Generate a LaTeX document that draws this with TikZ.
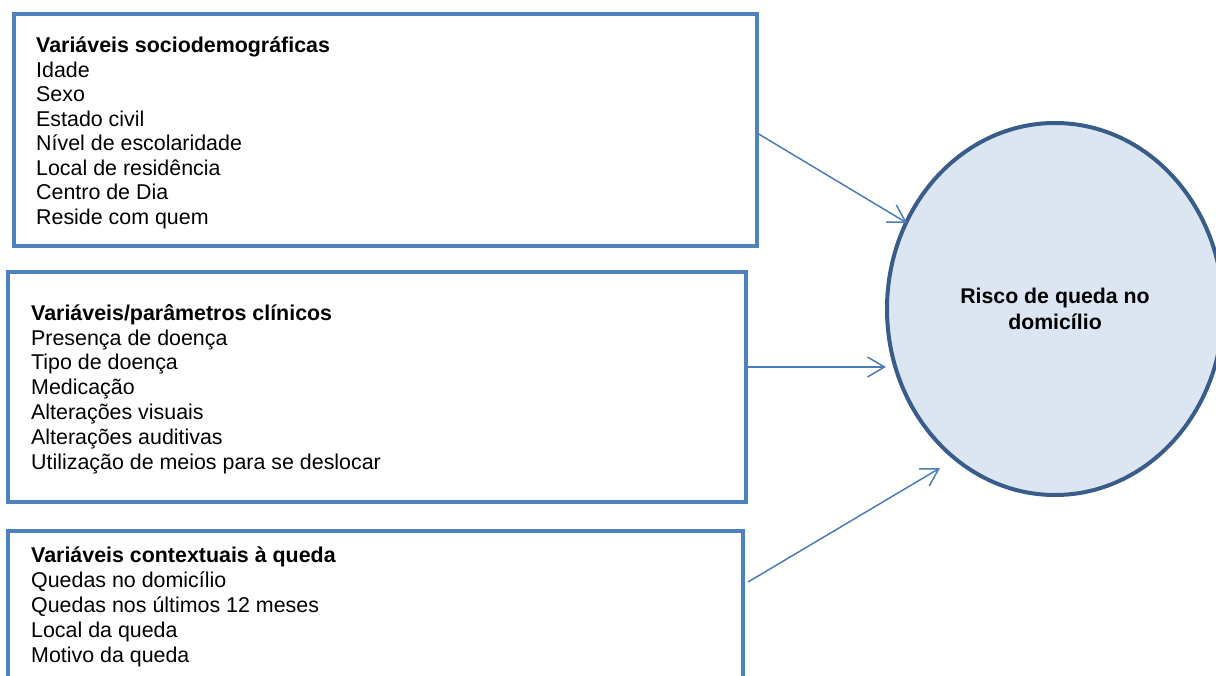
\documentclass[tikz,border=0pt]{standalone}
\usepackage{fontspec}
\setmainfont{Liberation Sans}
\usetikzlibrary{shapes.geometric,arrows.meta}
\definecolor{boxblue}{HTML}{4F81BD}
\definecolor{arrblue}{HTML}{4A7EBB}
\definecolor{elldraw}{HTML}{385D8A}
\definecolor{ellfill}{HTML}{DCE6F2}
\begin{document}
\begin{tikzpicture}[x=1pt,y=-1pt,
  box/.style={draw=boxblue, line width=4pt, rectangle, inner sep=0pt},
  txt/.style={anchor=base west, align=left, inner sep=0pt},
  conn/.style={draw=arrblue, line width=1.5pt, -{Straight Barb[length=17pt,width=20pt]}}]
\useasboundingbox (0,0) rectangle (1216,675);
\clip (0,0) rectangle (1216,675);
\node[box, minimum width=743pt, minimum height=232pt] (b1) at (385.5,130) {};
\node[box, minimum width=738pt, minimum height=230pt] (b2) at (377,387) {};
\node[box, minimum width=735pt, minimum height=174pt] (b3) at (375.5,618) {};
% base anchor = baseline of last line
\node[txt, font=\fontsize{21.4}{24.5}\selectfont] (t1) at (36,224) {\textbf{Variáveis sociodemográficas}\\Idade\\Sexo\\Estado civil\\Nível de escolaridade\\Local de residência\\Centro de Dia\\Reside com quem};
\node[txt, font=\fontsize{21.4}{24.8}\selectfont] (t2) at (31,469) {\textbf{Variáveis/parâmetros clínicos}\\Presença de doença\\Tipo de doença\\Medicação\\Alterações visuais\\Alterações auditivas\\Utilização de meios para se deslocar};
\node[txt, font=\fontsize{21.4}{25}\selectfont] (t3) at (31,662) {\textbf{Variáveis contextuais à queda}\\Quedas no domicílio\\Quedas nos últimos 12 meses\\Local da queda\\Motivo da queda};
\node[ellipse, draw=elldraw, fill=ellfill, line width=4pt, minimum width=336pt, minimum height=372pt, inner sep=0pt, align=center, font=\fontsize{21.3}{25.5}\selectfont\bfseries] (risk) at (1055,309) {Risco de queda no\\domicílio};
\coordinate (s1) at (757,133);
\coordinate (e1) at (907,223);
\coordinate (s2) at (746,367);
\coordinate (e2) at (886,367);
\coordinate (s3) at (748,582);
\coordinate (e3) at (940,468);
\draw[conn] (s1) -- (e1);
\draw[conn] (s2) -- (e2);
\draw[conn] (s3) -- (e3);
\end{tikzpicture}
\end{document}
